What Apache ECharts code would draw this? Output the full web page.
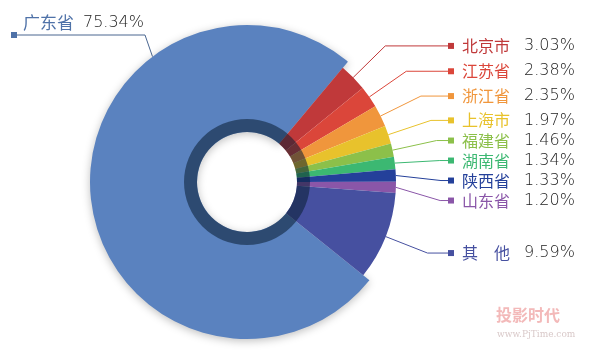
<!DOCTYPE html>
<html>
<head>
<meta charset="utf-8">
<script src="https://cdn.jsdelivr.net/npm/echarts@6/dist/echarts.min.js"></script>
<style>
  html, body { margin: 0; padding: 0; background: #fff; }
  #main { width: 600px; height: 355px; }
</style>
</head>
<body>
<div id="main"></div>
<script>
  // clockwise from the top-right, 广东省 last
  const provinces = ['北京市', '江苏省', '浙江省', '上海市', '福建省', '湖南省', '陕西省', '山东省', '其　他', '广东省']
  const shares = [3.03, 2.38, 2.35, 1.97, 1.46, 1.34, 1.33, 1.20, 9.59, 75.34]
  const sliceColors = ['#c0393a', '#db463a', '#f0963c', '#e8c22c', '#8cc04a', '#3cb872', '#24409a', '#8a56a8', '#4650a0', '#5a82bf']
  const bigName = '广东省'
  const bigIndex = provinces.indexOf(bigName)

  const center = [247, 182]
  const holeR = 50
  const ringR = 63
  const smallR = 149
  const bigR = 157
  const startAngle = 50
  const labelColumnX = 448

  const pct = v => v.toFixed(2) + '%'
  const clear = 'rgba(0,0,0,0)'
  const pctFont = 'DejaVu Sans'

  const chart = echarts.init(document.getElementById('main'))

  // the big slice, drawn a bit wider than the rest
  const bigData = provinces.map((name, i) => {
    if (i !== bigIndex) {
      return {name, value: shares[i], itemStyle: {color: clear}, label: {show: false}, labelLine: {show: false}}
    }
    return {
      name,
      value: shares[i],
      itemStyle: {color: sliceColors[i], shadowBlur: 8, shadowColor: 'rgba(0,0,0,0.25)', shadowOffsetY: 2},
      label: {show: true},
      labelLine: {show: true, lineStyle: {color: '#4a6690', width: 1}}
    }
  })

  const smallData = provinces.map((name, i) => {
    if (i === bigIndex) {
      return {name, value: shares[i], itemStyle: {color: clear}, label: {show: false}, labelLine: {show: false}}
    }
    return {
      name,
      value: shares[i],
      itemStyle: {color: sliceColors[i]},
      label: {rich: {sq: {backgroundColor: sliceColors[i]}, nm: {color: sliceColors[i]}}},
      labelLine: {lineStyle: {color: sliceColors[i], width: 1}}
    }
  })

  chart.setOption({
    animation: false,
    series: [
      {
        type: 'pie',
        center: center,
        radius: [holeR, bigR],
        startAngle: startAngle,
        silent: true,
        data: bigData,
        label: {
          overflow: 'none',
          formatter: p => '{nm|' + p.name + '}{pc|' + pct(p.value) + '}\n{sq|}',
          rich: {
            nm: {fontSize: 17, lineHeight: 18, color: '#4f72a8', padding: [0, 0, 0, 12], fontFamily: 'Noto Sans CJK SC'},
            pc: {fontSize: 16, lineHeight: 18, color: '#222', padding: [0, 0, 0, 9], fontFamily: pctFont, fontWeight: 200},
            sq: {width: 6, height: 6, lineHeight: 6, backgroundColor: '#4f72a8'}
          }
        },
        labelLayout: function (params) {
          if (params.dataIndex !== bigIndex) {
            return {}
          }
          const a = 127 * Math.PI / 180
          const edge = [center[0] + bigR * Math.cos(a), center[1] - bigR * Math.sin(a)]
          return {
            x: 11,
            y: 14,
            align: 'left',
            verticalAlign: 'top',
            labelLinePoints: [edge, [145, 35], [14, 35]]
          }
        }
      },
      {
        type: 'pie',
        center: center,
        radius: [holeR, smallR],
        startAngle: startAngle,
        silent: true,
        data: smallData,
        label: {
          position: 'outside',
          overflow: 'none',
          minMargin: 4,
          distanceToLabelLine: 0,
          formatter: p => '{sq|}{nm|' + p.name + '}{pc|' + pct(p.value) + '}',
          rich: {
            sq: {width: 6, height: 6, lineHeight: 22},
            nm: {fontSize: 16, lineHeight: 22, width: 62, padding: [0, 0, 0, 8], fontFamily: 'Noto Sans CJK SC'},
            pc: {fontSize: 16, lineHeight: 22, color: '#222', fontFamily: pctFont, fontWeight: 200}
          }
        },
        labelLine: {length: 45, length2: 10},
        // keep the library's leader lines, but end them all in one column
        labelLayout: function (params) {
          const pts = params.labelLinePoints
          if (!pts) {
            return {}
          }
          const y = pts[2][1]
          return {
            x: labelColumnX,
            y: y,
            align: 'left',
            verticalAlign: 'middle',
            labelLinePoints: [pts[0], pts[1], [labelColumnX, y]]
          }
        }
      },
      {
        // dark translucent ring round the hole
        type: 'pie',
        center: center,
        radius: [holeR, ringR],
        silent: true,
        label: {show: false},
        labelLine: {show: false},
        data: [{value: 1, itemStyle: {color: 'rgba(10,30,50,0.55)'}}]
      }
    ],
    graphic: [
      {type: 'text', left: 496, top: 307, style: {text: '投影时代', font: 'bold 16px "Noto Sans CJK SC"', fill: '#f3b9b9'}},
      {type: 'text', left: 497, top: 330, style: {text: 'www.PjTime.com', font: '9px "DejaVu Serif"', fill: '#d9c9c9'}}
    ]
  })
</script>
</body>
</html>
